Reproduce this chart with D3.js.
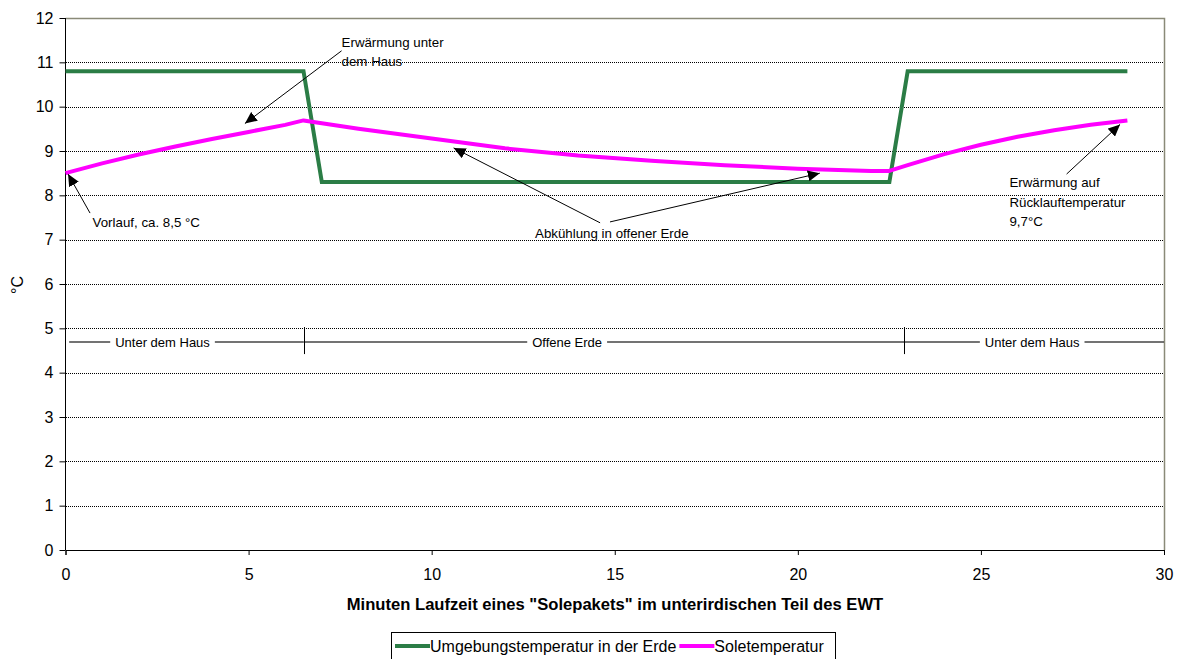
<!DOCTYPE html>
<html>
<head>
<meta charset="utf-8">
<script src="https://cdn.jsdelivr.net/npm/d3@7"></script>
<style>
  html, body { margin: 0; padding: 0; background: #fff; }
  svg { display: block; font-family: "Liberation Sans", Arial, sans-serif; }
</style>
</head>
<body>
<svg id="chart" width="1181" height="659"></svg>
<script>
// Ground temperature along the buried pipe (minutes -> °C)
const groundMinutes = [0, 6.5, 7.0, 22.5, 23.0, 29];
const groundTemps   = [10.8, 10.8, 8.3, 8.3, 10.8, 10.8];

// Brine temperature of one "Solepaket" along its way
const brineMinutes = [0, 1, 2, 3, 4, 5, 6, 6.5, 8, 10, 12, 14, 16, 18, 20, 22, 22.5, 23, 24, 25, 26, 27, 28, 29];
const brineTemps   = [8.5, 8.72, 8.92, 9.1, 9.27, 9.43, 9.59, 9.69, 9.5, 9.28, 9.06, 8.9, 8.78, 8.68, 8.6, 8.55, 8.55, 8.68, 8.93, 9.14, 9.32, 9.47, 9.59, 9.69];

const yTicks = [0, 1, 2, 3, 4, 5, 6, 7, 8, 9, 10, 11, 12];
const xTicks = [0, 5, 10, 15, 20, 25, 30];

const seriesNames = ["Umgebungstemperatur in der Erde", "Soletemperatur"];

// Sections of the pipe: boundaries in minutes and their labels
const sectionBounds = [0.1, 6.5, 22.9, 30];
const sectionLabels = ["Unter dem Haus", "Offene Erde", "Unter dem Haus"];
const sectionLabelAt = [2.65, 13.7, 26.4];
const sectionLevel = 4.69;

const svg = d3.select("#chart");
const plotLeft = 65.5, plotRight = 1164, plotTop = 18, plotBottom = 550;

const x = d3.scaleLinear().domain([0, 30]).range([plotLeft, plotRight]);
const y = d3.scaleLinear().domain([0, 12]).range([plotBottom, plotTop]);

const GREEN = "#2b7d46";
const PINK = "#ff00ff";

// Dotted horizontal gridlines
svg.append("g")
  .attr("shape-rendering", "crispEdges")
  .selectAll("line")
  .data(yTicks.filter(d => d > 0 && d < 12))
  .join("line")
  .attr("x1", plotLeft).attr("x2", plotRight)
  .attr("y1", d => Math.round(y(d)) + 0.5).attr("y2", d => Math.round(y(d)) + 0.5)
  .attr("stroke", "#000")
  .attr("stroke-width", 1)
  .attr("stroke-dasharray", "1,1");

// Plot frame (top and right)
svg.append("path")
  .attr("d", `M${plotLeft},${Math.round(y(12)) + 0.5}H${plotRight + 0.5}V${plotBottom}`)
  .attr("fill", "none")
  .attr("stroke", "#8a8a78")
  .attr("stroke-width", 1.5);

// Axes
const yAxis = d3.axisLeft(y).tickValues(yTicks).tickSize(6).tickPadding(6).tickFormat(d3.format("d"));
const xAxis = d3.axisBottom(x).tickValues(xTicks).tickSize(5).tickPadding(14).tickFormat(d3.format("d"));

const gy = svg.append("g").attr("transform", `translate(${plotLeft},0)`).call(yAxis);
const gx = svg.append("g").attr("transform", `translate(0,${plotBottom})`).call(xAxis);
[gy, gx].forEach(g => {
  g.selectAll("path, line").attr("stroke", "#000").attr("stroke-width", 1);
  g.selectAll("text").attr("font-size", 16).attr("fill", "#000")
    .attr("font-family", "'Liberation Sans', Arial, sans-serif");
});
gy.select(".domain").attr("d", `M0,${plotTop}V${plotBottom}`);

// Axis titles
svg.append("text")
  .attr("x", 615).attr("y", 610)
  .attr("text-anchor", "middle")
  .attr("font-size", 16.6).attr("font-weight", "bold")
  .text('Minuten Laufzeit eines "Solepakets" im unterirdischen Teil des EWT');

svg.append("text")
  .attr("transform", "translate(23,285) rotate(-90)")
  .attr("text-anchor", "middle")
  .attr("font-size", 16)
  .text("°C");

// Pipe sections annotation
const sec = svg.append("g").attr("stroke", "#444").attr("stroke-width", 1.5);
const secY = y(sectionLevel);
const labelHalf = [];
const labelsG = svg.append("g");
sectionLabels.forEach((lab, i) => {
  const t = labelsG.append("text")
    .attr("x", x(sectionLabelAt[i])).attr("y", secY + 4.5)
    .attr("text-anchor", "middle")
    .attr("font-size", 13).attr("fill", "#000")
    .text(lab);
  labelHalf.push(t.node().getComputedTextLength() / 2 + 5);
});
sectionLabels.forEach((lab, i) => {
  const cx = x(sectionLabelAt[i]);
  sec.append("line").attr("x1", x(sectionBounds[i])).attr("x2", cx - labelHalf[i]).attr("y1", secY).attr("y2", secY);
  sec.append("line").attr("x1", cx + labelHalf[i]).attr("x2", x(sectionBounds[i + 1])).attr("y1", secY).attr("y2", secY);
});
sec.selectAll("line.tick")
  .data(sectionBounds.slice(1, 3))
  .join("line")
  .attr("class", "tick")
  .attr("stroke", "#000").attr("stroke-width", 1)
  .attr("x1", d => Math.round(x(d)) + 0.5).attr("x2", d => Math.round(x(d)) + 0.5)
  .attr("y1", secY - 15).attr("y2", secY + 12);

// Series lines
const line = d3.line().x(d => x(d[0])).y(d => y(d[1]));
svg.append("path")
  .datum(groundMinutes.map((m, i) => [m, groundTemps[i]]))
  .attr("d", line)
  .attr("fill", "none").attr("stroke", GREEN).attr("stroke-width", 4)
  .attr("stroke-linejoin", "miter");
svg.append("path")
  .datum(brineMinutes.map((m, i) => [m, brineTemps[i]]))
  .attr("d", line)
  .attr("fill", "none").attr("stroke", PINK).attr("stroke-width", 4)
  .attr("stroke-linejoin", "round");

// Arrow annotations (from -> tip, in minutes / °C)
svg.append("defs").append("marker")
  .attr("id", "head")
  .attr("viewBox", "0 0 12 11")
  .attr("refX", 12).attr("refY", 5.5)
  .attr("markerWidth", 12).attr("markerHeight", 11)
  .attr("markerUnits", "userSpaceOnUse")
  .attr("orient", "auto")
  .append("path").attr("d", "M0,0L12,5.5L0,11Z").attr("fill", "#000");

const arrows = [
  [[7.54, 11.26], [4.9, 9.62]],
  [[0.67, 7.6], [0.07, 8.48]],
  [[14.6, 7.38], [10.6, 9.07]],
  [[14.87, 7.4], [20.6, 8.5]],
  [[27.34, 8.48], [28.8, 9.6]]
];
svg.append("g")
  .selectAll("line")
  .data(arrows)
  .join("line")
  .attr("x1", d => x(d[0][0])).attr("y1", d => y(d[0][1]))
  .attr("x2", d => x(d[1][0])).attr("y2", d => y(d[1][1]))
  .attr("stroke", "#000").attr("stroke-width", 1)
  .attr("marker-end", "url(#head)");

const notes = [
  { at: [7.54, 11.44], anchor: "start", gap: 18.5, lines: ["Erwärmung unter", "dem Haus"] },
  { at: [0.74, 7.38], anchor: "start", gap: 19, lines: ["Vorlauf, ca. 8,5 °C"] },
  { at: [14.92, 7.15], anchor: "middle", gap: 19, lines: ["Abkühlung in offener Erde"] },
  { at: [25.78, 8.28], anchor: "start", gap: 19.5, lines: ["Erwärmung auf", "Rücklauftemperatur", "9,7°C"] }
];
notes.forEach(n => {
  const t = svg.append("text")
    .attr("x", x(n.at[0])).attr("y", y(n.at[1]) + 4.5)
    .attr("text-anchor", n.anchor)
    .attr("font-size", 13.3).attr("fill", "#000");
  n.lines.forEach((l, i) => {
    t.append("tspan").attr("x", x(n.at[0])).attr("dy", i === 0 ? 0 : n.gap).text(l);
  });
});

// Legend
const lg = svg.append("g");
lg.append("rect")
  .attr("x", 391.5).attr("y", 632.5).attr("width", 444).attr("height", 40)
  .attr("fill", "#fff").attr("stroke", "#000").attr("stroke-width", 1);
const legendColors = [GREEN, PINK];
let lx = 395;
seriesNames.forEach((name, i) => {
  lg.append("line").attr("x1", lx).attr("x2", lx + 35).attr("y1", 646).attr("y2", 646)
    .attr("stroke", legendColors[i]).attr("stroke-width", 4);
  const t = lg.append("text").attr("x", lx + 35).attr("y", 651.5)
    .attr("font-size", 16).attr("fill", "#000").text(name);
  lx += 35 + t.node().getComputedTextLength() + 3;
});
</script>
</body>
</html>
